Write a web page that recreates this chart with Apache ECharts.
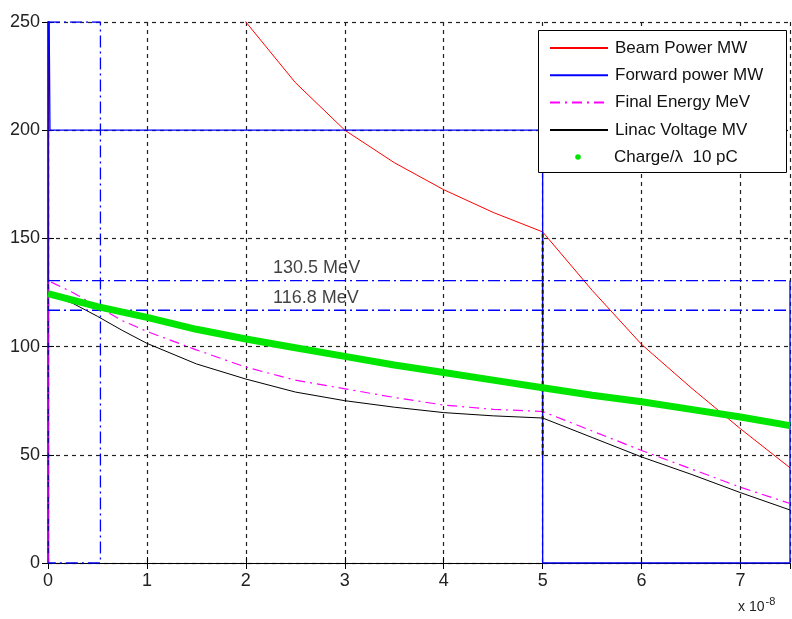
<!DOCTYPE html>
<html>
<head>
<meta charset="utf-8">
<script src="https://cdn.jsdelivr.net/npm/echarts@6/dist/echarts.min.js"></script>
<style>
    html, body { margin: 0; padding: 0; background: #fff; }
    #chart { width: 792px; height: 619px; }
</style>
</head>
<body>
<div id="chart"></div>
<script>
// time in units of 1e-8 s
const beamX = [0, 0, 0.01, 1, 1.5, 2, 2.5, 3, 3.5, 4, 4.5, 5, 5.5, 6, 6.5, 7, 7.5];
const beamY = [0, 320, 600, 380, 300, 250, 222, 200, 185, 172.5, 162, 153, 126, 101, 81, 62, 44];

const fwdX = [0, 0, 0.02, 5, 5, 7.5, 7.5];
const fwdY = [0, 320, 200, 200, 0, 0, 130.5];

const energyX = [0, 0, 0.25, 0.5, 0.75, 1, 1.5, 2, 2.5, 3, 3.5, 4, 4.5, 5, 5.5, 6, 6.5, 7, 7.5];
const energyY = [0, 130.5, 125, 118.5, 112, 107, 98.5, 90.5, 84.5, 80.5, 76.5, 73, 71, 70, 61, 52, 43.5, 35, 27.5];

const linacX = [0, 0.25, 0.5, 0.75, 1, 1.5, 2, 2.5, 3, 3.5, 4, 4.5, 5, 5.5, 6, 6.5, 7, 7.5];
const linacY = [124, 120, 114, 107.5, 101.5, 92, 85, 79, 75, 72, 69.5, 68, 67, 58, 49, 41, 32.5, 24.5];

const chargeX = [0, 0.5, 1, 1.5, 2, 2.5, 3, 3.5, 4, 4.5, 5, 5.5, 6, 6.5, 7, 7.5];
const chargeY = [124.5, 118.5, 113.5, 108, 103.5, 99.5, 95.5, 91.5, 88, 84.5, 81, 77.5, 74.5, 71, 67.5, 63.5];

// dash-dot guide lines
const cutBoxX = [0, 0.53, 0.53, 0];
const cutBoxY = [250, 250, 0, 0];
const levelX = [0, 7.5];
const levelValues = [130.5, 116.8];
const edgeX = [5, 5];
const edgeY = [50, 153];

const noteX = [2.27, 2.27];
const noteY = [136.5, 122.6];
const noteText = ['130.5 MeV', '116.8 MeV'];

const xTicks = [0, 1, 2, 3, 4, 5, 6, 7];
const yTicks = [0, 50, 100, 150, 200, 250];

const FONT = 'Liberation Sans, Arial, sans-serif';

function pairs(xs, ys) {
    return xs.map((x, i) => [x, ys[i]]);
}

const chart = echarts.init(document.getElementById('chart'));

const dashDot = [12, 4, 2, 4];

const series = [
    {
        name: 'Beam Power MW', type: 'line', symbol: 'none',
        data: pairs(beamX, beamY),
        lineStyle: { color: '#ff0000', width: 1 }, itemStyle: { color: '#ff0000' }
    },
    {
        name: 'Forward power MW', type: 'line', symbol: 'none',
        data: pairs(fwdX, fwdY),
        lineStyle: { color: '#0000ff', width: 1.3 }, itemStyle: { color: '#0000ff' }
    },
    {
        name: 'Final Energy MeV', type: 'line', symbol: 'none',
        data: pairs(energyX, energyY),
        lineStyle: { color: '#ff00ff', width: 1.2, type: [10, 5, 2, 5] }, itemStyle: { color: '#ff00ff' }
    },
    {
        name: 'Linac Voltage MV', type: 'line', symbol: 'none',
        data: pairs(linacX, linacY),
        lineStyle: { color: '#000000', width: 1 }, itemStyle: { color: '#000000' }
    },
    {
        name: 'cut', type: 'line', symbol: 'none', silent: true,
        data: pairs(cutBoxX, cutBoxY),
        lineStyle: { color: '#0000ff', width: 1.3, type: dashDot }
    },
    {
        name: 'edge', type: 'line', symbol: 'none', silent: true,
        data: pairs(edgeX, edgeY),
        lineStyle: { color: '#111', width: 2, type: [4, 3] }
    }
];

levelValues.forEach((v, i) => {
    series.push({
        name: 'level' + i, type: 'line', symbol: 'none', silent: true,
        data: levelX.map((x) => [x, v]),
        lineStyle: { color: '#0000ff', width: 1.3, type: dashDot }
    });
});

series.push({
    name: 'Charge/λ  10 pC', type: 'line', symbol: 'none',
    data: pairs(chargeX, chargeY),
    lineStyle: { color: '#00e600', width: 7 }, itemStyle: { color: '#00e600' }
});

series.push({
    name: 'notes', type: 'scatter', silent: true, symbolSize: 1,
    itemStyle: { color: 'rgba(0,0,0,0)' },
    data: noteX.map((x, i) => ({ value: [x, noteY[i]], name: noteText[i] })),
    label: {
        show: true, position: 'right', distance: 0, formatter: '{b}',
        color: '#111', fontSize: 18, fontFamily: FONT
    }
});

const axisLine = { show: true, lineStyle: { color: '#000', width: 1.2 } };
const grid = { color: '#222', type: [4, 4], width: 1.2 };
const legendText = { color: '#111', fontSize: 17, fontFamily: FONT, lineHeight: 18, padding: [0, 0, 0, 2] };

chart.setOption({
    animation: false,
    backgroundColor: '#fff',
    grid: { left: 48, right: 2, top: 22, bottom: 56 },
    xAxis: [
        {
            type: 'value', min: 0, max: 7.5, interval: 1, position: 'bottom',
            axisLine: axisLine,
            axisTick: { show: true, inside: true, length: 6, lineStyle: { color: '#000' } },
            axisLabel: {
                color: '#222', fontSize: 18, fontFamily: FONT, margin: 9,
                showMaxLabel: false,
                formatter: (v) => (xTicks.includes(v) ? String(v) : '')
            },
            splitLine: { show: true, lineStyle: grid }
        },
        {
            type: 'value', min: 0, max: 7.5, interval: 1, position: 'top',
            axisLine: axisLine,
            axisTick: { show: true, inside: true, length: 6, lineStyle: { color: '#000' } },
            axisLabel: { show: false },
            splitLine: { show: false }
        }
    ],
    yAxis: [
        {
            type: 'value', min: 0, max: 250, interval: 50, position: 'left',
            axisLine: axisLine,
            axisTick: { show: true, inside: true, length: 6, lineStyle: { color: '#000' } },
            axisLabel: {
                color: '#222', fontSize: 18, fontFamily: FONT, margin: 8,
                formatter: (v) => (yTicks.includes(v) ? String(v) : '')
            },
            splitLine: { show: true, lineStyle: grid }
        },
        {
            type: 'value', min: 0, max: 250, interval: 50, position: 'right',
            axisLine: axisLine,
            axisTick: { show: true, inside: true, length: 6, lineStyle: { color: '#000' } },
            axisLabel: { show: false },
            splitLine: { show: false }
        }
    ],
    legend: [
        {
            data: ['Beam Power MW', 'Forward power MW', 'Final Energy MeV', 'Linac Voltage MV'],
            orient: 'vertical', left: 549, top: 39, padding: 0,
            itemWidth: 58, itemHeight: 14, itemGap: 9.3, z: 6,
            selectedMode: false,
            itemStyle: { opacity: 0 },
            textStyle: legendText
        },
        {
            data: ['Charge/λ  10 pC'],
            orient: 'vertical', left: 549, top: 148, padding: 0,
            itemWidth: 58, itemHeight: 7, z: 6,
            selectedMode: false,
            lineStyle: { opacity: 0, width: 0 },
            itemStyle: { borderWidth: 0 },
            textStyle: legendText
        }
    ],
    graphic: [
        {
            type: 'rect', z: 5,
            shape: { x: 538.5, y: 30.5, width: 248, height: 142 },
            style: { fill: '#fff', stroke: '#000', lineWidth: 1 }
        },
        {
            type: 'text', left: 738, top: 596,
            style: {
                text: '{a|x 10}{b|-8}',
                rich: {
                    a: { fontSize: 14, fontFamily: FONT, fill: '#222', padding: [6, 0, 0, 0] },
                    b: { fontSize: 11, fontFamily: FONT, fill: '#222', padding: [0, 0, 6, 1] }
                }
            }
        }
    ],
    series: series
});
</script>
</body>
</html>
